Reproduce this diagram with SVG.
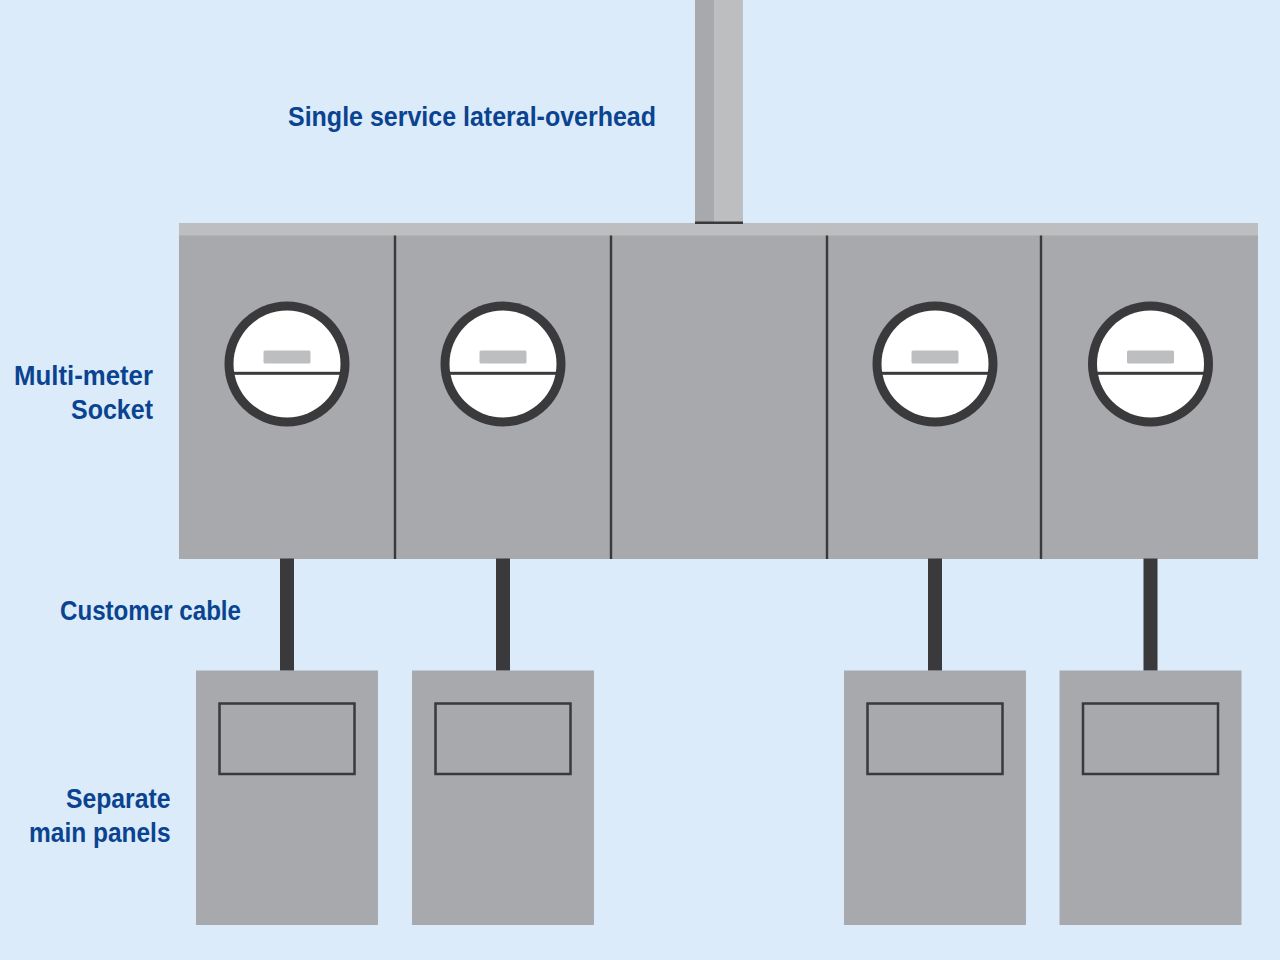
<svg xmlns="http://www.w3.org/2000/svg" width="1280" height="960" viewBox="0 0 1280 960">
<style>
.lbl{font-family:"Liberation Sans",Arial,sans-serif;font-weight:700;font-size:28px;fill:#0a4490}
.g{fill:#a7a9ac}.l{fill:#bcbec0}.d{fill:#3a393b}
.div{stroke:#3a393b;stroke-width:2.4;fill:none}
</style>
<defs>
<g id="meter">
<circle r="62.5" fill="#3a393b"/>
<circle r="53.5" fill="#fff"/>
<rect x="-23.500" y="-13.500" width="47" height="13" rx="1.500" class="l"/>
<rect x="-54" y="7.800" width="108" height="3" class="d"/>
</g>
<g id="panel">
<rect x="-91" y="0" width="182" height="254.500" class="g"/>
<rect x="-67.500" y="33" width="135" height="70.500" fill="none" stroke="#3a393b" stroke-width="2.500"/>
<rect x="-7" y="-112" width="14" height="112" class="d"/>
</g>
</defs>
<rect width="1280" height="960" fill="#dcebfa"/>
<g id="lateral">
<rect x="695" y="0" width="48" height="224" class="l"/>
<rect x="695" y="0" width="19" height="224" class="g"/>
</g>
<g id="socket">
<rect x="179" y="223" width="1079" height="336" class="g"/>
<rect x="179" y="223" width="1079" height="12.500" class="l"/>
<rect x="695" y="221.500" width="48" height="2.500" class="d"/>
<path class="div" d="M395 235.500V559M611 235.500V559M827 235.500V559M1041 235.500V559"/>
<use href="#meter" x="287" y="364"/>
<use href="#meter" x="503" y="364"/>
<use href="#meter" x="935" y="364"/>
<use href="#meter" x="1150.500" y="364"/>
</g>
<g id="panels">
<use href="#panel" x="287" y="670.500"/>
<use href="#panel" x="503" y="670.500"/>
<use href="#panel" x="935" y="670.500"/>
<use href="#panel" x="1150.500" y="670.500"/>
</g>
<g id="labels">
<text class="lbl" x="288" y="126" textLength="368" lengthAdjust="spacingAndGlyphs">Single service lateral-overhead</text>
<text class="lbl" x="14" y="385" textLength="139" lengthAdjust="spacingAndGlyphs">Multi-meter</text>
<text class="lbl" x="71" y="419" textLength="82" lengthAdjust="spacingAndGlyphs">Socket</text>
<text class="lbl" x="60" y="620" textLength="181" lengthAdjust="spacingAndGlyphs">Customer cable</text>
<text class="lbl" x="66" y="808" textLength="104.500" lengthAdjust="spacingAndGlyphs">Separate</text>
<text class="lbl" x="29" y="842" textLength="141.500" lengthAdjust="spacingAndGlyphs">main panels</text>
</g>
</svg>
